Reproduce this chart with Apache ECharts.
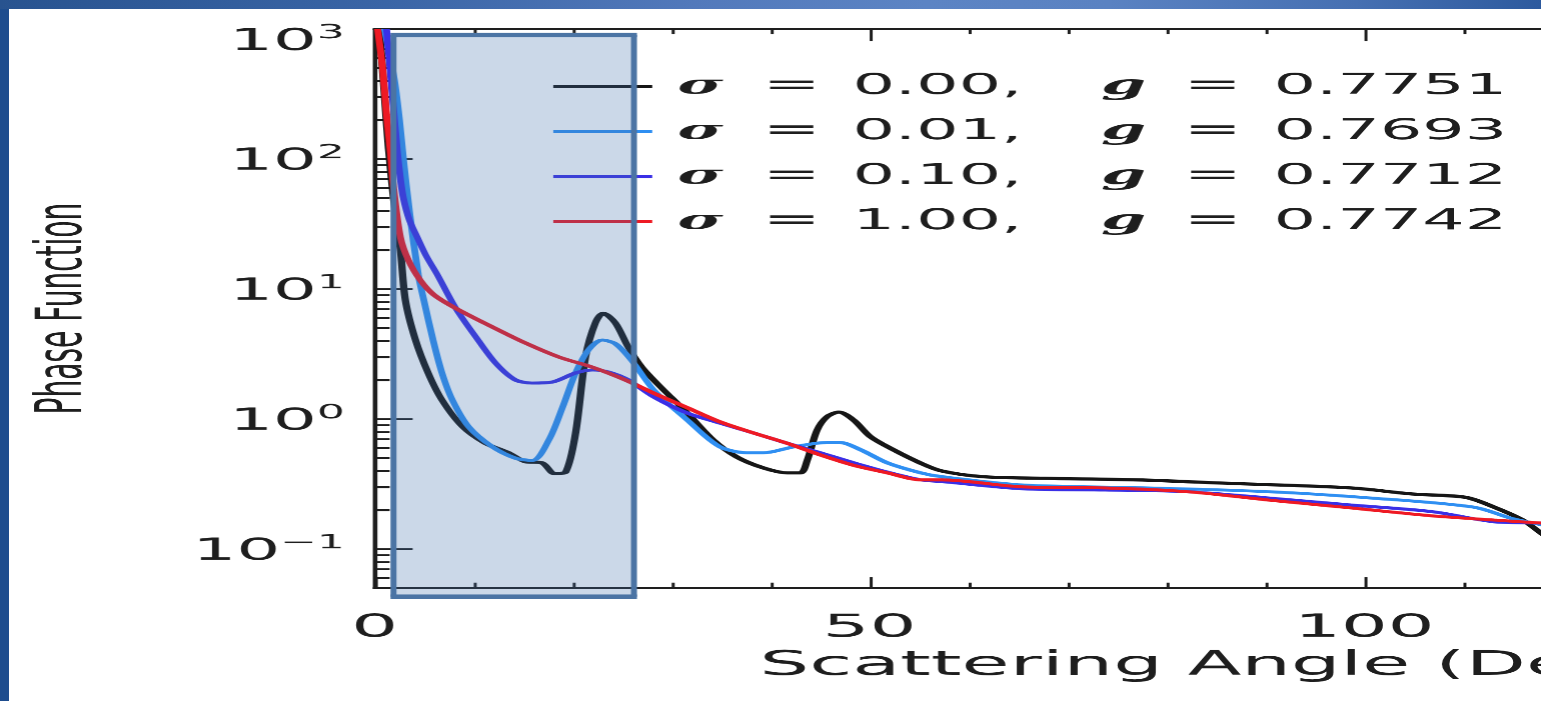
<!DOCTYPE html>
<html><head><meta charset="utf-8">
<script src="https://cdn.jsdelivr.net/npm/echarts@6/dist/echarts.min.js"></script>
<style>
html,body{margin:0;padding:0;width:1541px;height:701px;overflow:hidden;background:#1e4d8e;}
#topband{position:absolute;left:0;top:0;width:1541px;height:9px;background:linear-gradient(90deg,#28538f 0%,#3a65a6 25%,#5279bb 45%,#5c84c4 60%,#5a82c2 72%,#4670b2 88%,#2d5a9e 100%);}
#white{position:absolute;left:9px;top:9px;right:0;bottom:0;background:#fff;}
#chart{position:absolute;left:0;top:0;width:670px;height:701px;transform:scaleX(2.3);transform-origin:0 0;}
</style></head><body>
<div id="topband"></div><div id="white"></div><div id="chart"></div>
<script>
// ---- data ----
const sigmaLabels = ['0.00', '0.01', '0.10', '1.00'];
const gLabels = ['0.7751', '0.7693', '0.7712', '0.7742'];

const angleS000 = [0.5,1.0,1.4,1.9,2.6,3.1,4.1,5.4,6.8,8.9,11.2,13.5,15.2,16.9,18.2,19.3,20.3,21.3,22.3,23.1,24.3,25.6,27.0,28.9,31.6,34.2,36.6,39.3,41.7,43.0,43.7,44.7,45.7,46.9,48.4,50.1,52.4,55.1,57.2,61.4,67.6,77.1,86.2,98.6,104.8,110.2,113.1,116.0,118.0,121.0];
const phaseS000 = [1000,300,120,50,20,8.2,4.1,2.26,1.4,0.87,0.65,0.55,0.47,0.46,0.38,0.39,0.78,3.0,5.5,6.5,5.5,3.6,2.5,1.76,1.11,0.69,0.51,0.42,0.385,0.385,0.48,0.82,1.04,1.13,0.98,0.73,0.58,0.46,0.40,0.36,0.35,0.34,0.32,0.295,0.265,0.25,0.21,0.167,0.13,0.09];

const angleS001 = [1.0,2.0,2.5,2.9,3.5,4.4,5.0,5.9,6.8,7.85,9.5,11.9,14.2,15.9,17.6,19.0,20.3,21.6,23.0,24.3,26.0,28.2,31.6,34.9,37.6,39.3,42.3,45.7,47.0,49.1,51.8,55.2,57.3,65.6,78.0,90.3,100.6,111.0,115.1,118.0,121.0];
const phaseS001 = [1000,400,200,100,40,13,8,4.05,2.26,1.4,0.87,0.61,0.5,0.48,0.69,1.24,2.26,3.4,4.05,3.8,2.8,1.67,0.98,0.61,0.55,0.55,0.61,0.66,0.66,0.58,0.46,0.385,0.36,0.31,0.295,0.276,0.247,0.21,0.17,0.153,0.13];

const angleS010 = [1.2,1.8,2.3,2.6,2.9,3.5,4.3,5.2,6.3,8.2,10.2,12.2,14.2,15.9,17.9,20.3,22.0,23.6,25.6,28.2,31.6,34.9,38.3,41.7,45.0,48.4,51.8,55.2,57.3,65.6,73.8,82.1,90.3,98.6,106.8,113.1,118.0,121.0];
const phaseS010 = [1000,300,111,70,50,34,25,18,13,7.1,4.3,2.7,2.0,1.89,1.92,2.26,2.38,2.3,2.0,1.48,1.11,0.93,0.78,0.65,0.55,0.46,0.39,0.34,0.33,0.29,0.284,0.276,0.247,0.218,0.194,0.162,0.158,0.15];

const angleS100 = [0.3,0.8,1.2,1.6,1.9,2.6,3.4,4.6,6.0,8.2,11.9,15.2,18.6,22.0,25.3,28.2,31.6,34.9,38.3,41.7,45.0,48.4,51.8,55.2,57.3,65.6,73.8,82.1,90.3,98.6,106.8,113.1,118.0,121.0];
const phaseS100 = [1000,500,220,110,61,25,16.7,11.7,9.0,7.1,5.1,3.85,3.0,2.5,2.0,1.58,1.22,0.95,0.78,0.65,0.53,0.44,0.385,0.34,0.34,0.30,0.295,0.276,0.238,0.207,0.18,0.167,0.158,0.152];

const xTickValues = [0, 50, 100, 150];
const yMajorTicks = [0.1, 1, 10, 100, 1000];
const yTickExponents = ['\u22121', '0', '1', '2', '3'];
const yMinorTicks = [0.06,0.07,0.08,0.09,0.2,0.3,0.4,0.5,0.6,0.7,0.8,0.9,2,3,4,5,6,7,8,9,20,30,40,50,60,70,80,90,200,300,400,500,600,700,800,900];
const shadeAngle = [1.9, 26.2];
const shadePhase = [0.043, 900];

// ---- styles ----
const lineColors = ['#161616', '#2f8ff2', '#3a2fe6', '#ee1a24'];
const lineWidths = [3.2, 3, 3, 3];
const SANS = "'DejaVu Sans', 'Liberation Sans', sans-serif";
const SERIF = "'DejaVu Serif', 'Liberation Serif', serif";
const INK = '#1e1e1e';

const angles = [angleS000, angleS001, angleS010, angleS100];
const phases = [phaseS000, phaseS001, phaseS010, phaseS100];
const names = sigmaLabels.map((s, i) => '\u03c3 = ' + s + ', g = ' + gLabels[i]);

const chart = echarts.init(document.getElementById('chart'), null, {devicePixelRatio: 2.3, renderer: 'canvas'});

function yLabel(v) {
  const idx = yMajorTicks.findIndex(t => Math.abs(t - v) / t < 1e-6);
  if (idx < 0) return '';
  const gap = idx === yMajorTicks.length - 1 ? '{gt| }' : '{gs| }';
  return gap + '\n{b|10}{p|' + yTickExponents[idx] + '}';
}

function legendLabel(name) {
  const i = names.indexOf(name);
  return '{s1|\u03c3}{e|=}{n|' + sigmaLabels[i] + ',}{g|g}{e|=}{m|' + gLabels[i] + '}';
}

const tickLine = {color: INK, width: 1.3};

const option = {
  animation: false,
  backgroundColor: 'transparent',
  grid: {left: 162.8, top: 29, width: 774, height: 559, containLabel: false, outerBoundsMode: 'none'},
  legend: {
    orient: 'vertical', left: 240.4, top: 64, padding: 0, itemGap: 0,
    itemWidth: 43, itemHeight: 3, icon: 'rect', selectedMode: false,
    data: names,
    formatter: legendLabel,
    textStyle: {
      color: INK, fontSize: 29, lineHeight: 45, height: 45,
      rich: {
        s1: {fontFamily: SERIF, fontStyle: 'italic', fontWeight: 'bold', fontSize: 27, width: 37, lineHeight: 45, padding: [0, 0, 0, 6], color: INK},
        e: {fontFamily: SANS, fontSize: 30, width: 39, lineHeight: 45, color: INK},
        n: {fontFamily: SANS, fontSize: 29, width: 108, lineHeight: 45, color: INK},
        g: {fontFamily: SERIF, fontStyle: 'italic', fontWeight: 'bold', fontSize: 28, width: 36, lineHeight: 45, color: INK},
        m: {fontFamily: SANS, fontSize: 29, lineHeight: 45, color: INK}
      }
    }
  },
  xAxis: [
    {
      type: 'value', position: 'bottom', min: 0, max: 180, interval: 50,
      axisLine: {show: true, lineStyle: {color: INK, width: 2}},
      axisTick: {show: true, inside: true, length: 11, lineStyle: tickLine},
      minorTick: {show: true, splitNumber: 5, length: 5.5, lineStyle: tickLine},
      axisLabel: {show: true, customValues: xTickValues, fontFamily: SANS, fontSize: 32, lineHeight: 32, color: INK, margin: 24},
      splitLine: {show: false}, minorSplitLine: {show: false},
      name: 'Scattering Angle (Degrees)', nameLocation: 'middle', nameGap: 61,
      nameTextStyle: {fontFamily: SANS, fontSize: 34, color: INK, lineHeight: 34, padding: [0, 0, 0, 22]}
    },
    {
      type: 'value', position: 'top', min: 0, max: 180, interval: 50,
      axisLine: {show: true, lineStyle: {color: INK, width: 2}},
      axisTick: {show: true, inside: true, length: 12, lineStyle: tickLine},
      minorTick: {show: true, splitNumber: 5, length: 5, lineStyle: tickLine},
      axisLabel: {show: false}, splitLine: {show: false}
    }
  ],
  yAxis: [
    {
      type: 'log', logBase: 10, position: 'left', min: 0.05, max: 1000,
      axisLine: {show: true, lineStyle: {color: INK, width: 2}},
      axisTick: {show: true, inside: true, length: 16.5, customValues: yMajorTicks, lineStyle: {color: INK, width: 2}},
      minorTick: {show: false},
      axisLabel: {
        show: true, customValues: yMajorTicks, formatter: yLabel, margin: 13, align: 'right',
        rich: {
          gs: {fontSize: 6, lineHeight: 6},
          gt: {fontSize: 26, lineHeight: 26},
          b: {fontFamily: SANS, fontSize: 30, lineHeight: 36, color: INK},
          p: {fontFamily: SANS, fontSize: 19, lineHeight: 28, verticalAlign: 'top', color: INK}
        }
      },
      splitLine: {show: false},
      name: 'Phase Function', nameLocation: 'middle', nameGap: 121, nameRotate: 90,
      nameTextStyle: {fontFamily: SANS, fontSize: 28, color: INK}
    },
    {
      type: 'log', logBase: 10, position: 'left', min: 0.05, max: 1000,
      axisLine: {show: false},
      axisTick: {show: true, inside: true, length: 6.5, customValues: yMinorTicks, lineStyle: {color: INK, width: 2}},
      minorTick: {show: false},
      axisLabel: {show: false}, splitLine: {show: false}
    }
  ],
  series: names.map((nm, i) => ({
    type: 'line', name: nm, xAxisIndex: 0, yAxisIndex: 0,
    data: angles[i].map((a, k) => [a, phases[i][k]]),
    symbol: 'none', showSymbol: false, smooth: 0.3, clip: true,
    lineStyle: {color: lineColors[i], width: lineWidths[i]},
    itemStyle: {color: lineColors[i]},
    z: 2 + i
  }))
};

chart.setOption(option);

// highlighted angular band drawn as an overlay, positioned through the axes
const finder = {xAxisIndex: 0, yAxisIndex: 0};
const pTL = chart.convertToPixel(finder, [shadeAngle[0], shadePhase[1]]);
const pBR = chart.convertToPixel(finder, [shadeAngle[1], shadePhase[0]]);
const xl = pTL[0], yt = pTL[1], xr = pBR[0], yb = pBR[1];
const edge = '#4b74a4';
chart.setOption({
  graphic: {elements: [
    {type: 'rect', silent: true, z: 100, shape: {x: xl, y: yt, width: xr - xl, height: yb - yt, r: 1}, style: {fill: 'rgba(62,112,170,0.27)'}},
    {type: 'line', silent: true, z: 101, shape: {x1: xl - 1.3, y1: yt, x2: xr + 1.3, y2: yt}, style: {stroke: edge, lineWidth: 4.3}},
    {type: 'line', silent: true, z: 101, shape: {x1: xl - 1.3, y1: yb, x2: xr + 1.3, y2: yb}, style: {stroke: edge, lineWidth: 4.3}},
    {type: 'line', silent: true, z: 101, shape: {x1: xl, y1: yt, x2: xl, y2: yb}, style: {stroke: edge, lineWidth: 2.6}},
    {type: 'line', silent: true, z: 101, shape: {x1: xr, y1: yt, x2: xr, y2: yb}, style: {stroke: edge, lineWidth: 2.6}}
  ]}
});
</script>
</body></html>
